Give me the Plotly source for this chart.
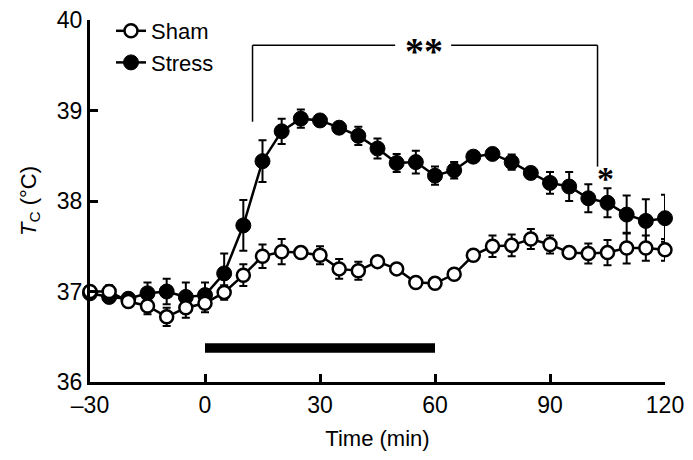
import plotly.graph_objects as go

time_min = [-30, -25, -20, -15, -10, -5, 0, 5, 10, 15, 20, 25, 30, 35, 40, 45,
            50, 55, 60, 65, 70, 75, 80, 85, 90, 95, 100, 105, 110, 115, 120]

sham_mean = [37.00, 37.00, 36.89, 36.84, 36.72, 36.82, 36.87, 36.99, 37.18, 37.39,
             37.44, 37.43, 37.40, 37.25, 37.23, 37.33, 37.25, 37.10, 37.09, 37.19,
             37.40, 37.50, 37.51, 37.58, 37.52, 37.43, 37.42, 37.43, 37.48, 37.48, 37.46]
sham_err = [0.05, 0.07, 0.06, 0.09, 0.10, 0.11, 0.10, 0.08, 0.12, 0.13,
            0.14, 0.05, 0.10, 0.11, 0.10, 0.04, 0.05, 0.04, 0.04, 0.04,
            0.05, 0.12, 0.12, 0.11, 0.10, 0.05, 0.11, 0.14, 0.17, 0.14, 0.12]

stress_mean = [36.98, 36.94, 36.92, 36.98, 37.00, 36.94, 36.96, 37.20, 37.73, 38.44,
               38.77, 38.91, 38.89, 38.81, 38.72, 38.58, 38.42, 38.43, 38.28, 38.34,
               38.49, 38.52, 38.43, 38.31, 38.20, 38.16, 38.03, 37.98, 37.85, 37.78, 37.81]
stress_err = [0.05, 0.06, 0.06, 0.12, 0.14, 0.16, 0.14, 0.22, 0.28, 0.23,
              0.14, 0.10, 0.06, 0.05, 0.10, 0.11, 0.10, 0.125, 0.10, 0.09,
              0.04, 0.05, 0.085, 0.06, 0.12, 0.16, 0.155, 0.16, 0.21, 0.24, 0.26]

x_ticks = [-30, 0, 30, 60, 90, 120]
x_ticktext = ["\u201330", "0", "30", "60", "90", "120"]
y_ticks = [36, 37, 38, 39, 40]

FONT = "Arial, Liberation Sans, sans-serif"
SERIF = "Liberation Serif, Times New Roman, serif"

# the page body adds an 8 px offset, so the figure is 8 px smaller each way
W, H = 685, 452
ML, MR, MT, MB = 82, 28, 12, 78
PW, PH = W - ML - MR, H - MT - MB

fig = go.Figure()

fig.add_trace(go.Scatter(
    x=time_min, y=stress_mean, name="Stress", mode="lines+markers",
    line=dict(color="black", width=2.5),
    marker=dict(symbol="circle", size=15, color="black", line=dict(color="black", width=1)),
    error_y=dict(type="data", array=stress_err, visible=True, color="black", thickness=2, width=4),
    cliponaxis=False, legendrank=2,
))
fig.add_trace(go.Scatter(
    x=time_min, y=sham_mean, name="Sham", mode="lines+markers",
    line=dict(color="black", width=2.5),
    marker=dict(symbol="circle", size=13, color="white", line=dict(color="black", width=2.5)),
    error_y=dict(type="data", array=sham_err, visible=True, color="black", thickness=2, width=4),
    cliponaxis=False, legendrank=1,
))

shapes = [
    # stimulus bar
    dict(type="rect", xref="x", yref="y", x0=0, x1=60, y0=36.324, y1=36.428,
         fillcolor="black", line=dict(width=0)),
    # bracket
    dict(type="line", xref="x", yref="y", x0=12.4, x1=12.4, y0=38.876, y1=39.72,
         line=dict(color="black", width=1.5)),
    dict(type="line", xref="x", yref="y", x0=12.4, x1=49.6, y0=39.72, y1=39.72,
         line=dict(color="black", width=1.5)),
    dict(type="line", xref="x", yref="y", x0=64.2, x1=102.4, y0=39.72, y1=39.72,
         line=dict(color="black", width=1.5)),
    dict(type="line", xref="x", yref="y", x0=102.4, x1=102.4, y0=38.38, y1=39.72,
         line=dict(color="black", width=1.5)),
]

annotations = [
    dict(x=57.0, y=39.72, xref="x", yref="y", text="<b>**</b>", showarrow=False,
         font=dict(family=SERIF, size=38, color="black"), yshift=-5.5),
    dict(x=104.5, y=38.28, xref="x", yref="y", text="<b>*</b>", showarrow=False,
         font=dict(family=SERIF, size=34, color="black"), yshift=-3),
]

fig.update_layout(
    width=W, height=H,
    margin=dict(l=ML, r=MR, t=MT, b=MB, autoexpand=False),
    paper_bgcolor="white", plot_bgcolor="white",
    font=dict(family=FONT, size=22, color="black"),
    showlegend=True,
    legend=dict(x=(103 - ML) / PW, y=1 + (MT - 2) / PH,
                xanchor="left", yanchor="top",
                bgcolor="rgba(0,0,0,0)", font=dict(size=22),
                itemwidth=30, tracegroupgap=0),
    shapes=shapes,
    annotations=annotations,
    xaxis=dict(range=[-30, 120], tickvals=x_ticks, ticktext=x_ticktext,
               showline=True, linecolor="black", linewidth=3,
               ticks="inside", ticklen=8, tickwidth=3, tickcolor="black",
               showgrid=False, zeroline=False, tickfont=dict(size=23),
               automargin=False, ticklabeloverflow="allow",
               title=dict(text="Time (min)", font=dict(size=22))),
    yaxis=dict(range=[36, 40], tickvals=y_ticks,
               showline=True, linecolor="black", linewidth=3,
               ticks="inside", ticklen=8, tickwidth=3, tickcolor="black",
               showgrid=False, zeroline=False, tickfont=dict(size=23),
               automargin=False, ticklabeloverflow="allow",
               title=dict(text="<i>T</i><sub>C</sub> (°C)", font=dict(size=22))),
)

fig.write_html("out.html")
